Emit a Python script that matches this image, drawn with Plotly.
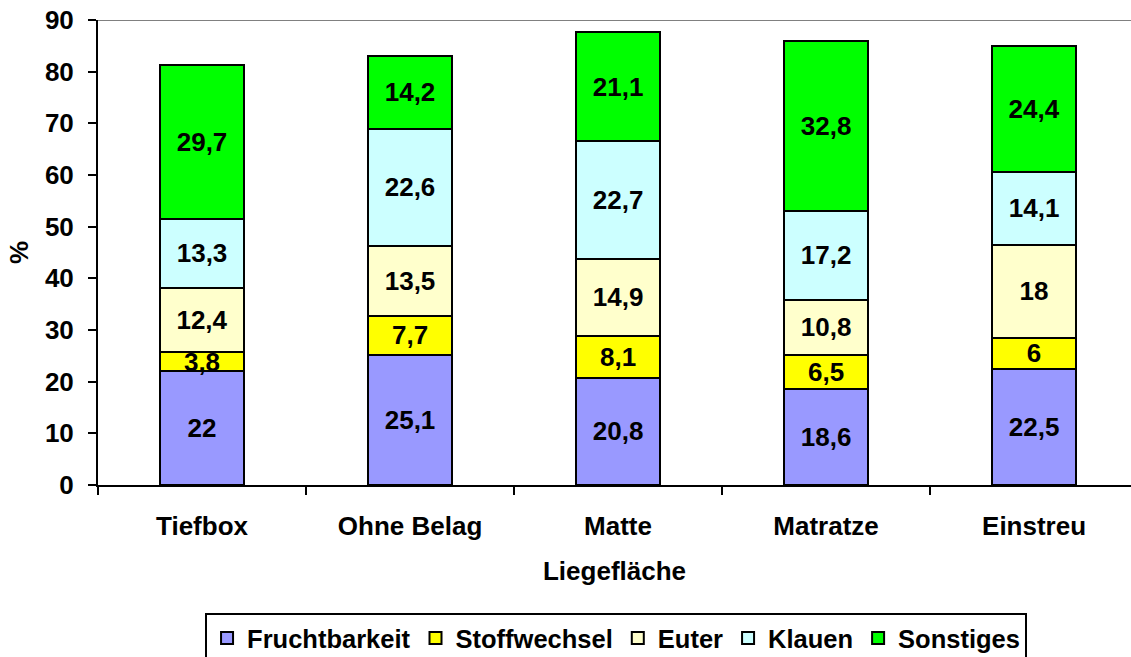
import plotly.graph_objects as go

categories = ["Tiefbox", "Ohne Belag", "Matte", "Matratze", "Einstreu"]
fruchtbarkeit = [22, 25.1, 20.8, 18.6, 22.5]
stoffwechsel = [3.8, 7.7, 8.1, 6.5, 6]
euter = [12.4, 13.5, 14.9, 10.8, 18]
klauen = [13.3, 22.6, 22.7, 17.2, 14.1]
sonstiges = [29.7, 14.2, 21.1, 32.8, 24.4]
y_ticks = [0, 10, 20, 30, 40, 50, 60, 70, 80, 90]

series = [
    ("Fruchtbarkeit", fruchtbarkeit, "#9999FF"),
    ("Stoffwechsel", stoffwechsel, "#FFFF00"),
    ("Euter", euter, "#FFFFCC"),
    ("Klauen", klauen, "#CCFFFF"),
    ("Sonstiges", sonstiges, "#00FF00"),
]

FONT = "Liberation Sans, Arial, sans-serif"
FS = 26
bold = dict(family=FONT, size=FS, color="black", weight="bold")

fig = go.Figure()
for name, vals, col in series:
    fig.add_trace(go.Bar(
        x=categories, y=vals, name=name,
        marker=dict(color=col, line=dict(color="black", width=2)),
        width=0.4,
        texttemplate="%{y}",
        textposition="inside",
        insidetextanchor="middle",
        constraintext="none",
        textangle=0,
        textfont=bold,
    ))

fig.add_shape(type="line", xref="paper", yref="y", x0=0, x1=1, y0=90, y1=90,
              line=dict(color="#808080", width=2), layer="below")

fig.update_layout(
    barmode="stack",
    width=1131, height=657,
    margin=dict(l=98, r=0, t=20, b=172, autoexpand=False),
    paper_bgcolor="white", plot_bgcolor="white",
    separators=",.",
    font=bold,
    showlegend=True,
    legend=dict(
        orientation="h", x=0.5015, xanchor="center", y=-0.2753, yanchor="top",
        bordercolor="black", borderwidth=2,
        font=dict(family=FONT, size=25.5, color="black", weight="bold"),
        traceorder="normal", itemwidth=30,
    ),
    xaxis=dict(
        range=[-0.5, 4.466],
        showline=True, linecolor="black", linewidth=2,
        ticks="outside", tickson="boundaries", ticklen=8, tickwidth=2, tickcolor="black",
        tickfont=bold, ticklabelstandoff=17,
        title=dict(text="Liegefläche", standoff=22, font=bold),
        showgrid=False,
    ),
    yaxis=dict(
        range=[0, 90], tickvals=y_ticks,
        showline=True, linecolor="black", linewidth=2,
        ticks="outside", ticklen=8, tickwidth=2, tickcolor="black",
        tickfont=bold, ticklabelstandoff=9,
        title=dict(text="%", standoff=9, font=bold),
        showgrid=False, zeroline=False,
    ),
)

fig.write_html("out.html", config={"displayModeBar": False})

with open("out.html", "r", encoding="utf-8") as f:
    html = f.read()
html = html.replace("<head>", "<head><style>html,body{margin:0;padding:0;overflow:hidden;}</style>", 1)
with open("out.html", "w", encoding="utf-8") as f:
    f.write(html)
